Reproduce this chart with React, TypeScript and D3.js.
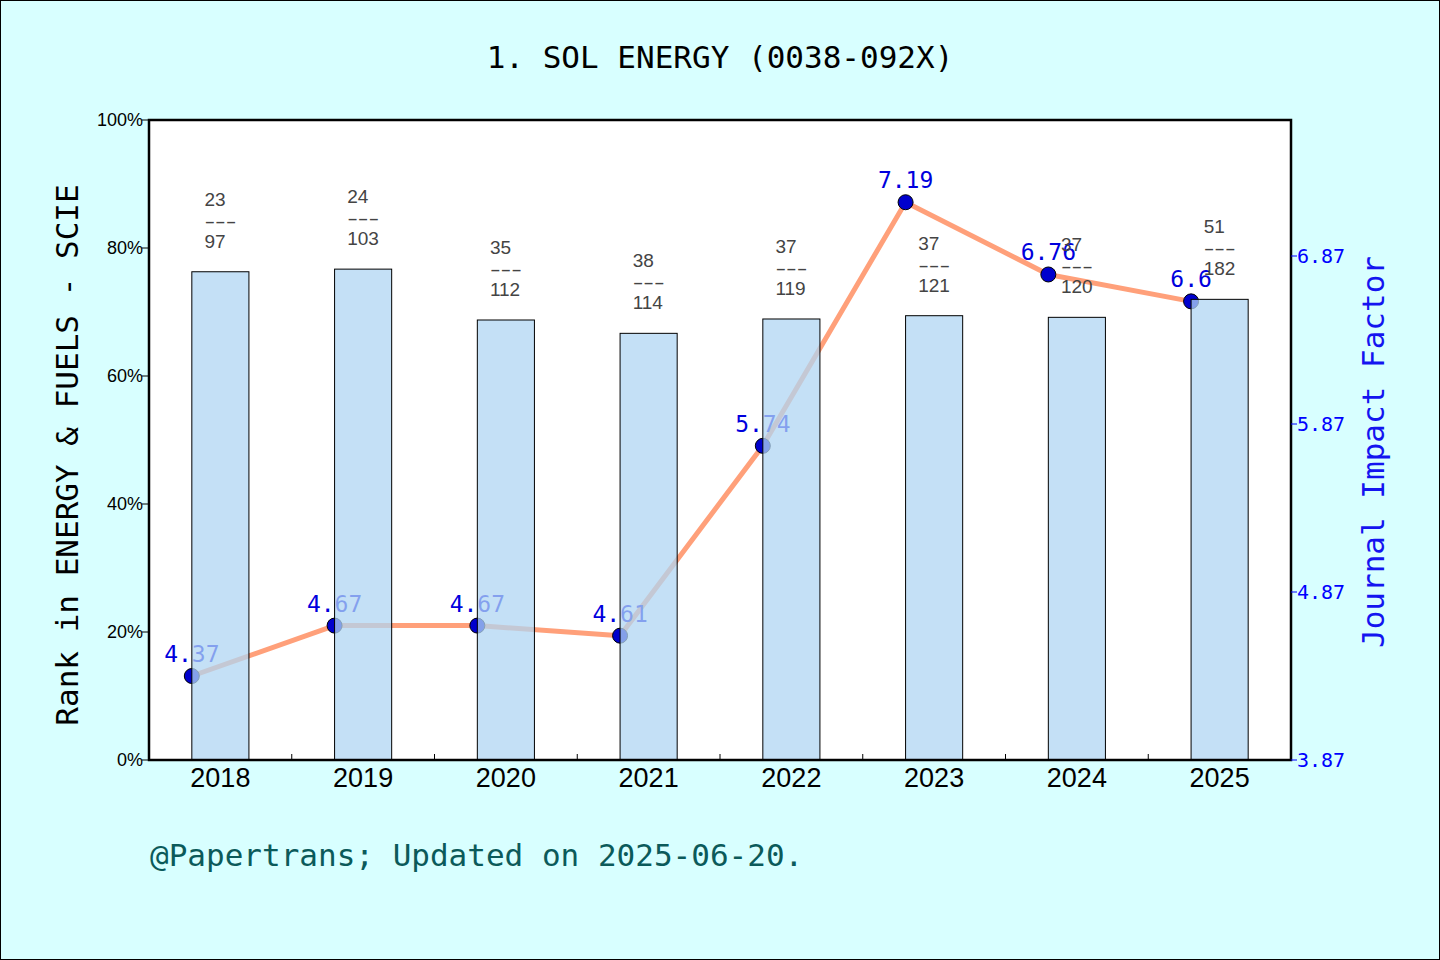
import React from 'react';
import * as d3 from 'd3';

const years = ['2018', '2019', '2020', '2021', '2022', '2023', '2024', '2025'];
const ranks = [23, 24, 35, 38, 37, 37, 37, 51];
const totals = [97, 103, 112, 114, 119, 121, 120, 182];
const impactFactors = [4.37, 4.67, 4.67, 4.61, 5.74, 7.19, 6.76, 6.6];
const pctTicks = [0, 0.2, 0.4, 0.6, 0.8, 1];
const ifTicks = [3.87, 4.87, 5.87, 6.87];

const W = 1440;
const H = 960;
const left = 149;
const right = 1291;
const top = 120;
const bottom = 760;

const mono = '"DejaVu Sans Mono", monospace';
const sans = '"Liberation Sans", Arial, sans-serif';

const App: React.FC = () => {
  const x = d3.scaleBand<string>().domain(years).range([left, right]).padding(0);
  const yPct = d3.scaleLinear().domain([0, 1]).range([bottom, top]);
  const yIF = d3.scaleLinear().domain([3.87, 3.87 + (bottom - top) / 168]).range([bottom, top]);
  const bw = x.bandwidth();
  const barW = bw * 0.4;
  const barX = (yr: string) => (x(yr) as number) + bw / 2 - barW / 2;

  const pts = years.map((yr, i) => [barX(yr), yIF(impactFactors[i])] as [number, number]);
  const line = d3.line()(pts) || '';

  return (
    <svg width={W} height={H} style={{ position: 'absolute', left: 0, top: 0 }}>
      <rect x={0.5} y={0.5} width={W - 1} height={H - 1} fill="#d8ffff" stroke="#000" />
      <text x={720} y={68} textAnchor="middle" fontFamily={mono} fontSize={31} fill="#000">
        1. SOL ENERGY (0038-092X)
      </text>
      <rect x={left} y={top} width={right - left} height={bottom - top} fill="#fff" />

      {/* impact factor line + points + labels (bars are drawn over them) */}
      <path d={line} fill="none" stroke="#ffa07a" strokeWidth={5} strokeLinejoin="round" />
      {pts.map(([px, py], i) => (
        <circle key={'c' + i} cx={px} cy={py} r={7.5} fill="#0000cd" stroke="#000" strokeWidth={1} />
      ))}
      {pts.map(([px, py], i) => (
        <text key={'l' + i} x={px} y={py - 14} textAnchor="middle" fontFamily={mono} fontSize={23} fill="#0000dd">
          {String(impactFactors[i])}
        </text>
      ))}

      {/* bars: 1 - rank/total */}
      {years.map((yr, i) => {
        const v = 1 - ranks[i] / totals[i];
        return (
          <rect
            key={'b' + i}
            x={barX(yr)}
            y={yPct(v)}
            width={barW}
            height={bottom - yPct(v)}
            fill="rgb(176,213,243)"
            fillOpacity={0.75}
            stroke="#000"
            strokeWidth={1}
          />
        );
      })}
      {years.map((yr, i) => {
        const t = yPct(1 - ranks[i] / totals[i]);
        const cx = (x(yr) as number) + bw / 2 - 16;
        return (
          <g key={'t' + i} fontFamily={sans} fontSize={19} fill="#444">
            <text x={cx} y={t - 66}>{ranks[i]}</text>
            <text x={cx} y={t - 44} textLength={32} lengthAdjust="spacingAndGlyphs">---</text>
            <text x={cx} y={t - 24}>{totals[i]}</text>
          </g>
        );
      })}

      {/* frame */}
      <rect x={left} y={top} width={right - left} height={bottom - top} fill="none" stroke="#000" strokeWidth={2.5} />

      {/* left axis */}
      {pctTicks.map((t) => (
        <g key={'p' + t}>
          <line x1={left - 7} x2={left} y1={yPct(t)} y2={yPct(t)} stroke="#000" />
          <text x={left - 6} y={yPct(t) + 6} textAnchor="end" fontFamily={sans} fontSize={18} fill="#000">
            {d3.format('.0%')(t)}
          </text>
        </g>
      ))}

      {/* right axis */}
      {ifTicks.map((t) => (
        <g key={'r' + t}>
          <line x1={right} x2={right + 6} y1={yIF(t)} y2={yIF(t)} stroke="#0000ff" />
          <text x={right + 6} y={yIF(t) + 7} fontFamily={mono} fontSize={20} fill="#0000ff">
            {t.toFixed(2)}
          </text>
        </g>
      ))}

      {/* bottom axis */}
      {years.map((yr, i) =>
        i > 0 ? (
          <line key={'bt' + i} x1={x(yr)} x2={x(yr)} y1={bottom} y2={bottom - 6} stroke="#000" />
        ) : null
      )}
      {years.map((yr) => (
        <text
          key={'x' + yr}
          x={(x(yr) as number) + bw / 2}
          y={bottom + 27}
          textAnchor="middle"
          fontFamily={sans}
          fontSize={27}
          fill="#000"
        >
          {yr}
        </text>
      ))}

      <text
        transform="translate(78,455) rotate(-90)"
        textAnchor="middle"
        fontFamily={mono}
        fontSize={31}
        fill="#000"
      >
        Rank in ENERGY &amp; FUELS - SCIE
      </text>
      <text
        transform="translate(1384,452) rotate(-90)"
        textAnchor="middle"
        fontFamily={mono}
        fontSize={31}
        fill="#1414f0"
      >
        Journal Impact Factor
      </text>

      <text x={150} y={866} fontFamily={mono} fontSize={31} fill="#0b5a5a">
        @Papertrans; Updated on 2025-06-20.
      </text>
    </svg>
  );
};

export default App;
